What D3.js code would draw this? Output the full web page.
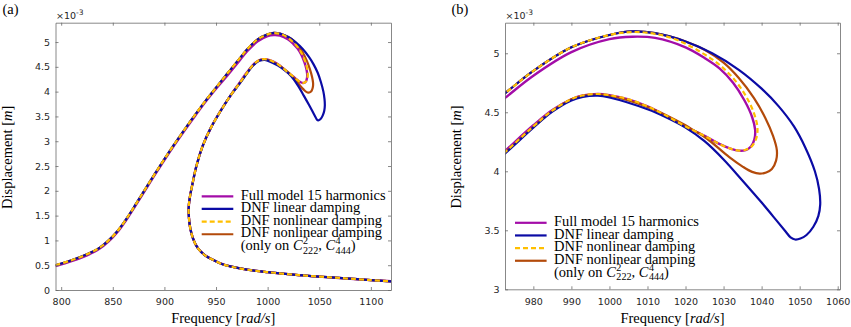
<!DOCTYPE html>
<html>
<head>
<meta charset="utf-8">
<script src="https://cdn.jsdelivr.net/npm/d3@7"></script>
<style>
  body { margin: 0; background: #fff; }
  svg { display: block; }
</style>
</head>
<body>
<div id="chart"></div>
<script>
const width = 851;
const height = 327;

// displacement values are in units of 1e-3 m (axis shows x10^-3)

// rising branch, same for every model
const riseFreq = [794.5, 810, 825, 837, 846, 855, 864, 872, 881, 891, 900, 910, 920, 930, 940, 950];
const riseDisp = [0.50, 0.60, 0.72, 0.85, 1.00, 1.20, 1.46, 1.72, 2.02, 2.35, 2.64, 2.95, 3.25, 3.54, 3.82, 4.08];

// fold region, one pair per model
const fullFreq = [960, 972.5, 980, 990, 1000, 1006, 1012, 1020, 1025, 1029, 1032.5, 1035.5, 1037.5, 1038.3, 1038.1, 1037.2, 1035.8, 1034, 1032, 1029, 1025, 1020, 1015, 1010, 1005, 1000, 997, 993, 990, 985, 980, 972.5];
const fullDisp = [4.30, 4.62, 4.81, 5.01, 5.12, 5.14, 5.13, 5.05, 4.96, 4.87, 4.75, 4.60, 4.46, 4.35, 4.27, 4.21, 4.18, 4.175, 4.19, 4.23, 4.30, 4.38, 4.47, 4.55, 4.61, 4.645, 4.655, 4.642, 4.61, 4.52, 4.39, 4.17];

const linFreq = [960, 972.5, 980, 990, 1000, 1006, 1012, 1020, 1027, 1034, 1040, 1044.5, 1048.5, 1051.5, 1054, 1055.1, 1055.4, 1054.9, 1053.6, 1051.8, 1050.2, 1048.8, 1047.6, 1046.3, 1044, 1040, 1035, 1030, 1025, 1020, 1015, 1010, 1000, 997, 993, 990, 985, 980, 972.5];
const linDisp = [4.34, 4.66, 4.85, 5.05, 5.155, 5.185, 5.17, 5.10, 5.00, 4.86, 4.70, 4.55, 4.38, 4.20, 4.00, 3.85, 3.72, 3.62, 3.53, 3.46, 3.43, 3.422, 3.44, 3.49, 3.58, 3.735, 3.92, 4.10, 4.255, 4.37, 4.455, 4.525, 4.625, 4.64, 4.63, 4.60, 4.505, 4.37, 4.15];

const nlFreq = [960, 972.5, 980, 990, 1000, 1006, 1012, 1018, 1024, 1029, 1033, 1036, 1038, 1038.9, 1038.6, 1037.5, 1036, 1034, 1032, 1029, 1025, 1020, 1015, 1010, 1005, 1000, 997, 993, 990, 985, 980, 972.5];
const nlDisp = [4.34, 4.66, 4.85, 5.05, 5.155, 5.18, 5.165, 5.11, 5.01, 4.90, 4.77, 4.63, 4.49, 4.37, 4.28, 4.215, 4.185, 4.175, 4.19, 4.23, 4.30, 4.38, 4.47, 4.55, 4.61, 4.645, 4.655, 4.642, 4.61, 4.515, 4.38, 4.16];

const onFreq = [960, 972.5, 980, 990, 1000, 1006, 1012, 1020, 1025, 1030, 1034, 1038, 1041, 1043, 1044, 1043.8, 1042.7, 1041.2, 1039.5, 1037.5, 1035, 1031.5, 1025.5, 1022, 1020, 1010, 1000, 997, 993, 990, 985, 980, 972.5];
const onDisp = [4.34, 4.66, 4.85, 5.05, 5.155, 5.185, 5.17, 5.10, 5.03, 4.92, 4.79, 4.62, 4.45, 4.30, 4.18, 4.09, 4.02, 3.99, 3.98, 3.995, 4.04, 4.12, 4.28, 4.35, 4.39, 4.545, 4.64, 4.65, 4.64, 4.61, 4.51, 4.375, 4.155];

// lower branch back through the left turning point, same for every model
const tailFreq = [965, 955, 945, 937, 931, 927, 924.5, 923.5, 923.8, 925, 927.5, 931, 935, 940, 947, 955, 965, 980, 1000, 1025, 1050, 1075, 1100, 1119.5];
const tailDisp = [3.95, 3.63, 3.27, 2.90, 2.50, 2.12, 1.85, 1.65, 1.45, 1.25, 1.05, 0.89, 0.78, 0.69, 0.61, 0.53, 0.47, 0.41, 0.36, 0.31, 0.27, 0.235, 0.20, 0.175];

const legendNames = ["Full model 15 harmonics", "DNF linear damping", "DNF nonlinear damping", "DNF nonlinear damping"];

const xTicksA = [800, 850, 900, 950, 1000, 1050, 1100];
const yTicksA = [0, 0.5, 1, 1.5, 2, 2.5, 3, 3.5, 4, 4.5, 5];
const xTicksB = [980, 990, 1000, 1010, 1020, 1030, 1040, 1050, 1060];
const yTicksB = [3, 3.5, 4, 4.5, 5];

const pts = (f, d) => d3.zip(f, d);
const join = (a, b, c) => a.concat(b, c);

const series = [
  { name: legendNames[0], color: "#a30ca8", width: 2.4, dash: null,
    data: join(pts(riseFreq, riseDisp.map(v => v - 0.02)), pts(fullFreq, fullDisp), pts(tailFreq, tailDisp)) },
  { name: legendNames[3], color: "#b34a0a", width: 2.2, dash: null,
    data: join(pts(riseFreq, riseDisp), pts(onFreq, onDisp), pts(tailFreq, tailDisp)) },
  { name: legendNames[1], color: "#0b0ba5", width: 2.2, dash: null,
    data: join(pts(riseFreq, riseDisp), pts(linFreq, linDisp), pts(tailFreq, tailDisp)) },
  { name: legendNames[2], color: "#ffbf00", width: 2.2, dash: "5,3",
    data: join(pts(riseFreq, riseDisp), pts(nlFreq, nlDisp), pts(tailFreq, tailDisp)) }
];
// legend order
const legendOrder = [0, 2, 3, 1];

const svg = d3.select("#chart")
  .append("svg")
  .attr("width", width)
  .attr("height", height);

const serif = "'Liberation Serif', 'DejaVu Serif', serif";
const sans = "'DejaVu Sans', sans-serif";
const axisColor = "#262626";
const boxColor = "#6a6a6a";

// size the serif text so the first legend entry is as wide as in the reference (~145px)
const probe = svg.append("text").attr("font-family", serif).attr("font-size", 20).text(legendNames[0]);
const serifSize = Math.min(16, 20 * 145 / probe.node().getComputedTextLength());
probe.remove();

function drawPanel(p) {
  const g = svg.append("g");
  const x = d3.scaleLinear().domain(p.xDomain).range([p.left, p.right]);
  const y = d3.scaleLinear().domain(p.yDomain).range([p.bottom, p.top]);

  g.append("clipPath").attr("id", p.id + "-clip")
    .append("rect")
    .attr("x", p.left).attr("y", p.top)
    .attr("width", p.right - p.left).attr("height", p.bottom - p.top);

  const line = d3.line()
    .x(d => x(d[0]))
    .y(d => y(d[1]))
    .curve(d3.curveCatmullRom.alpha(0.5));

  g.append("g")
    .attr("clip-path", `url(#${p.id}-clip)`)
    .selectAll("path")
    .data(series)
    .join("path")
    .attr("d", d => line(d.data))
    .attr("fill", "none")
    .attr("stroke", d => d.color)
    .attr("stroke-width", d => d.width)
    .attr("stroke-dasharray", d => d.dash)
    .attr("stroke-linejoin", "round");

  const styleAxis = sel => {
    sel.attr("font-family", sans).attr("font-size", 9.5);
    sel.selectAll("path, line").attr("stroke", boxColor).attr("stroke-width", 0.8);
    sel.selectAll("text").attr("fill", axisColor);
  };

  g.append("g")
    .attr("transform", `translate(0,${p.bottom})`)
    .call(d3.axisBottom(x).tickValues(p.xTicks).tickSizeInner(-3).tickSizeOuter(0).tickPadding(8.5).tickFormat(d => d))
    .call(styleAxis);
  g.append("g")
    .attr("transform", `translate(0,${p.top})`)
    .call(d3.axisTop(x).tickValues(p.xTicks).tickSizeInner(-3).tickSizeOuter(0).tickFormat(""))
    .call(styleAxis);
  g.append("g")
    .attr("transform", `translate(${p.left},0)`)
    .call(d3.axisLeft(y).tickValues(p.yTicks).tickSizeInner(-3).tickSizeOuter(0).tickPadding(5.5).tickFormat(d => d))
    .call(styleAxis);
  g.append("g")
    .attr("transform", `translate(${p.right},0)`)
    .call(d3.axisRight(y).tickValues(p.yTicks).tickSizeInner(-3).tickSizeOuter(0).tickFormat(""))
    .call(styleAxis);

  // x10^-3 exponent
  const ex = g.append("text")
    .attr("x", p.left + 0.5).attr("y", p.top - 3.5)
    .attr("font-family", sans).attr("font-size", 9.5).attr("fill", axisColor);
  ex.append("tspan").text("\u00d710");
  ex.append("tspan").attr("dy", -4).attr("font-size", 7.5).text("-3");

  // axis titles
  const xl = g.append("text")
    .attr("x", (p.left + p.right) / 2).attr("y", 322.5)
    .attr("text-anchor", "middle")
    .attr("font-family", serif).attr("font-size", serifSize).attr("fill", "#000");
  xl.append("tspan").text("Frequency [");
  xl.append("tspan").attr("font-style", "italic").text("rad/s");
  xl.append("tspan").text("]");

  const yl = g.append("text")
    .attr("transform", `translate(${p.yTitleX},${(p.top + p.bottom) / 2 + 1}) rotate(-90)`)
    .attr("text-anchor", "middle")
    .attr("font-family", serif).attr("font-size", serifSize).attr("fill", "#000");
  yl.append("tspan").text("Displacement [");
  yl.append("tspan").attr("font-style", "italic").text("m");
  yl.append("tspan").text("]");

  g.append("text")
    .attr("x", p.tagX).attr("y", 13.5)
    .attr("font-family", serif).attr("font-size", serifSize).attr("fill", "#000")
    .text(p.tag);

  drawLegend(g, p.legX, p.legY);
}

function drawLegend(g, lx, ly) {
  const step = 12.65;
  const tx = lx + 39;
  legendOrder.forEach((si, i) => {
    const s = series[si];
    const yy = ly + i * step;
    g.append("line")
      .attr("x1", lx).attr("x2", lx + 31.6)
      .attr("y1", yy - 3.2).attr("y2", yy - 3.2)
      .attr("stroke", s.color).attr("stroke-width", 2.2)
      .attr("stroke-dasharray", s.dash);
    g.append("text")
      .attr("x", tx).attr("y", yy)
      .attr("font-family", serif).attr("font-size", serifSize).attr("fill", "#000")
      .text(s.name);
  });

  // "(only on C^2_222, C^4_444)" with stacked scripts
  const yy = ly + 4 * step;
  const small = serifSize * 0.7;
  let cx = tx;
  const piece = (t, opts = {}) => {
    const el = g.append("text")
      .attr("x", cx).attr("y", yy + (opts.dy || 0))
      .attr("font-family", serif)
      .attr("font-size", opts.size || serifSize)
      .attr("font-style", opts.italic ? "italic" : null)
      .attr("fill", "#000")
      .text(t);
    return el.node().getComputedTextLength();
  };
  const stack = (sup, sub) => {
    const a = piece(sup, { dy: -0.42 * serifSize, size: small });
    const b = piece(sub, { dy: 0.24 * serifSize, size: small });
    cx += Math.max(a, b);
  };
  cx += piece("(only on\u00a0");
  cx += piece("C", { italic: true }) + 0.5;
  stack("2", "222");
  cx += piece(",\u00a0");
  cx += piece("C", { italic: true }) + 0.5;
  stack("4", "444");
  cx += piece(")");
}

drawPanel({
  id: "pa", tag: "(a)", tagX: 2.5,
  left: 55.5, right: 391, top: 22.7, bottom: 290,
  xDomain: [794.5, 1119.5], yDomain: [0, 5.39],
  xTicks: xTicksA, yTicks: yTicksA,
  yTitleX: 11.5, legX: 201.7, legY: 199.5
});

drawPanel({
  id: "pb", tag: "(b)", tagX: 451.5,
  left: 505, right: 840, top: 22.7, bottom: 289.3,
  xDomain: [972.55, 1060.6], yDomain: [3, 5.259],
  xTicks: xTicksB, yTicks: yTicksB,
  yTitleX: 461, legX: 515, legY: 226
});
</script>
</body>
</html>
